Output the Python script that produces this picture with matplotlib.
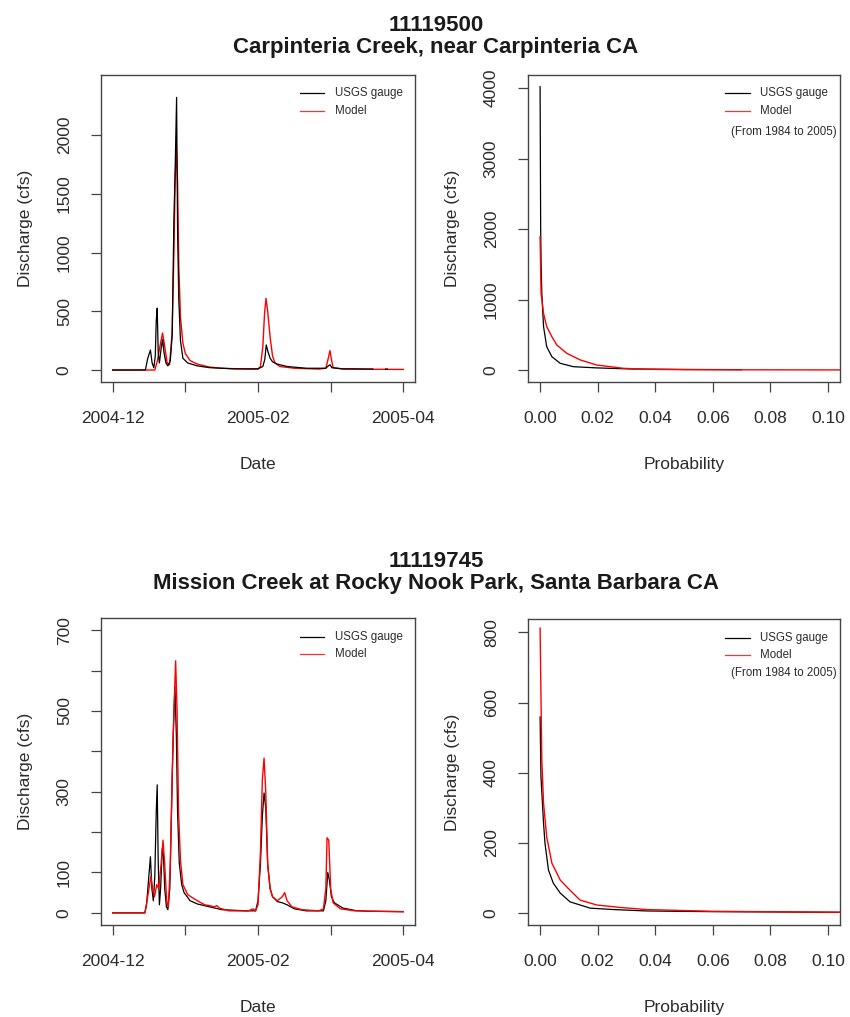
import matplotlib
matplotlib.use("Agg")
import matplotlib.pyplot as plt
import numpy as np

plt.rcParams['font.family'] = ['Liberation Sans', 'DejaVu Sans']

# ---------------- data ----------------
date_ticks = [0, 30, 60, 90, 120]
date_labels = ["2004-12", "", "2005-02", "", "2005-04"]
prob_ticks = [0.00, 0.02, 0.04, 0.06, 0.08, 0.10]
prob_labels = ["0.00", "0.02", "0.04", "0.06", "0.08", "0.10"]

station1 = "11119500"
name1 = "Carpinteria Creek, near Carpinteria CA"
station2 = "11119745"
name2 = "Mission Creek at Rocky Nook Park, Santa Barbara CA"

# Carpinteria time series (day index, cfs)
c_gauge_day = [0, 13.5, 14.5, 15.6, 16.3, 17, 17.6, 18.0, 18.4, 18.8, 19.3, 20.0, 20.6, 21.2, 22.0,
               22.8, 23.8, 24.6, 25.3, 25.8, 26.4, 26.8, 27.3, 28, 29, 31, 35, 40, 50, 60, 62,
               62.8, 63.4, 64.2, 65, 66, 68, 72, 80, 88, 89, 89.7, 90.5, 95, 100, 107.4,
               np.nan, 112.6, 113.4]
c_gauge_q = [0, 0, 100, 170, 60, 20, 120, 420, 527, 150, 60, 180, 260, 150, 60,
             35, 80, 300, 1300, 1700, 2320, 1200, 600, 250, 100, 60, 35, 20, 10, 10, 30,
             90, 213, 150, 100, 70, 50, 30, 15, 15, 35, 45, 20, 10, 10, 8,
             np.nan, 8, 8]
c_model_day = [0, 17.4, 18.5, 19.5, 20.6, 21.5, 22.5, 23.5, 24.5, 25.3, 25.8, 26.3, 26.8, 27.3,
               28, 29, 30, 32, 35, 40, 45, 55, 60, 61, 62, 62.7, 63.3, 64, 65, 66, 67, 69,
               75, 85, 88, 89, 89.7, 90.4, 91, 95, 120]
c_model_q = [0, 0, 80, 200, 315, 200, 60, 45, 300, 1000, 1600, 1915, 1600, 900,
             450, 230, 140, 80, 50, 25, 15, 8, 8, 30, 200, 480, 610, 500, 280, 120, 60, 30,
             15, 8, 15, 100, 165, 80, 20, 8, 5]

# Mission Creek time series (day index, cfs)
m_gauge_day = [0, 13.3, 14, 14.8, 15.6, 16.2, 16.8, 17.4, 18.0, 18.4, 18.8, 19.3, 19.8, 20.5, 21,
               21.5, 22.2, 22.8, 23.6, 24.3, 25.0, 25.7, 26.3, 26.8, 27.5, 28.5, 29.5, 32, 35,
               40, 45, 55, 59, 60, 61, 61.8, 62.5, 63.2, 64, 65, 66, 68, 70, 72, 75, 80, 87,
               88, 88.8, 89.5, 90.3, 91.5, 95, 100, 105, 120]
m_gauge_q = [0, 0, 20, 80, 139, 60, 30, 90, 250, 317, 130, 20, 60, 160, 140,
             60, 15, 8, 60, 250, 440, 560, 440, 250, 124, 70, 50, 30, 22,
             15, 8, 5, 5, 30, 120, 240, 297, 260, 120, 60, 40, 28, 25, 20, 10, 5, 5,
             30, 100, 80, 40, 25, 12, 6, 4, 3]
m_model_day = [0, 13.3, 14.2, 15, 15.8, 16.5, 17.3, 18.2, 19, 20, 20.8, 21.5, 22.3, 23, 23.8,
               24.6, 25.3, 26, 26.6, 27.2, 28, 29, 31, 35, 38, 40, 42, 43, 44, 48, 56, 58, 59,
               60, 61, 61.8, 62.5, 63.2, 64, 65, 66, 68, 70, 71, 72, 74, 78, 85, 87, 88,
               88.5, 89.2, 90, 91, 94, 100, 120]
m_model_q = [0, 0, 30, 60, 90, 60, 40, 70, 60, 120, 180, 120, 30, 15, 120,
             350, 500, 624, 500, 250, 130, 70, 45, 30, 20, 18, 15, 18, 12, 5, 5, 10, 5,
             20, 150, 330, 383, 300, 120, 60, 40, 30, 40, 50, 30, 15, 8, 5, 10, 60,
             186, 180, 60, 25, 10, 5, 3]

# Exceedance curves (probability, cfs)
c_gauge_p = [0, 0.0002, 0.00035, 0.0006, 0.0012, 0.0023, 0.0041, 0.007, 0.0116, 0.0197,
             0.0313, 0.05, 0.07]
c_gauge_fq = [4019, 2010, 1500, 1088, 615, 331, 189, 95, 47, 30, 15, 8, 5]
c_model_p = [0, 0.0002, 0.00035, 0.0012, 0.0023, 0.0041, 0.0058, 0.0093, 0.014, 0.0197,
             0.029, 0.037, 0.05, 0.07, 0.11]
c_model_fq = [1891, 1400, 1088, 804, 615, 473, 355, 236, 142, 71, 24, 10, 5, 3, 1]

m_gauge_p = [0, 0.0003, 0.0012, 0.0017, 0.0029, 0.0046, 0.007, 0.0104, 0.0174, 0.0255,
             0.037, 0.06, 0.11]
m_gauge_fq = [559, 388, 256, 199, 123, 85, 57, 32, 14, 10, 6, 4, 2]
m_model_p = [0, 0.00035, 0.0006, 0.0012, 0.0023, 0.0041, 0.007, 0.0104, 0.0139, 0.0197,
             0.0278, 0.037, 0.06, 0.11]
m_model_fq = [812, 588, 436, 313, 217, 142, 94, 65, 37, 23, 16, 10, 5, 2]

c_ts_yticks = [0, 500, 1000, 1500, 2000]
c_ts_ylabels = ["0", "500", "1000", "1500", "2000"]
c_fd_yticks = [0, 1000, 2000, 3000, 4000]
c_fd_ylabels = ["0", "1000", "2000", "3000", "4000"]
m_ts_yticks = [0, 100, 200, 300, 400, 500, 600, 700]
m_ts_ylabels = ["0", "100", "", "300", "", "500", "", "700"]
m_fd_yticks = [0, 200, 400, 600, 800]
m_fd_ylabels = ["0", "200", "400", "600", "800"]

# ---------------- layout ----------------
W, H = 850, 1017
fig = plt.figure(figsize=(W / 100, H / 100), dpi=100)
TXT = "#2b2b2b"
AX = "#444444"
FS = 12.5


def add_ax(x0, x1, y0, y1):
    return fig.add_axes([x0 / W, 1 - y1 / H, (x1 - x0) / W, (y1 - y0) / H])


def style(ax, xticks, xlabels, yticks, ylabels, xlabel, xlim, ylim):
    ax.set_xlim(*xlim)
    ax.set_ylim(*ylim)
    ax.set_xticks(xticks)
    ax.set_xticklabels(xlabels)
    ax.set_yticks(yticks)
    ax.set_yticklabels(ylabels, rotation=90, va="center")
    for s in ax.spines.values():
        s.set_color(AX)
        s.set_linewidth(1.0)
    ax.tick_params(direction="out", length=7, width=0.9, color=AX, labelcolor=TXT,
                   labelsize=FS)
    ax.tick_params(axis="x", pad=14)
    ax.tick_params(axis="y", pad=14)
    ax.set_xlabel(xlabel, fontsize=FS, color=TXT, labelpad=22)
    ax.set_ylabel("Discharge (cfs)", fontsize=FS, color=TXT, labelpad=17)


def legend(ax, with_period, ys):
    lx0, lx1, tx = 0.633, 0.71, 0.745
    ax.plot([lx0, lx1], [ys[0], ys[0]], transform=ax.transAxes, color="black", lw=0.9)
    ax.plot([lx0, lx1], [ys[1], ys[1]], transform=ax.transAxes, color="#ff3333", lw=0.9)
    ax.text(tx, ys[0], "USGS gauge", transform=ax.transAxes, fontsize=8.3, color=TXT,
            va="center", ha="left")
    ax.text(tx, ys[1], "Model", transform=ax.transAxes, fontsize=8.3, color=TXT,
            va="center", ha="left")
    if with_period:
        ax.text(0.99, ys[2], "(From 1984 to 2005)", transform=ax.transAxes, fontsize=8.3,
                color=TXT, va="center", ha="right")


# top-left
ax1 = add_ax(101, 415, 75, 382)
ax1.plot(c_model_day, c_model_q, color="red", lw=1.0)
ax1.plot(c_gauge_day, c_gauge_q, color="black", lw=0.9)
style(ax1, date_ticks, date_labels, c_ts_yticks, c_ts_ylabels, "Date",
      (-4.8, 124.8), (-102, 2511))
legend(ax1, False, (0.941, 0.883))

# top-right
ax2 = add_ax(528, 840, 75, 382)
ax2.plot(c_gauge_p, c_gauge_fq, color="black", lw=0.9)
ax2.plot(c_model_p, c_model_fq, color="red", lw=1.0)
style(ax2, prob_ticks, prob_labels, c_fd_yticks, c_fd_ylabels, "Probability",
      (-0.0042, 0.1042), (-170, 4185))
legend(ax2, True, (0.941, 0.883, 0.814))

# bottom-left
ax3 = add_ax(101, 415, 618, 925)
ax3.plot(m_gauge_day, m_gauge_q, color="black", lw=0.9)
ax3.plot(m_model_day, m_model_q, color="red", lw=1.0)
style(ax3, date_ticks, date_labels, m_ts_yticks, m_ts_ylabels, "Date",
      (-4.8, 124.8), (-30, 730))
legend(ax3, False, (0.938, 0.883))

# bottom-right
ax4 = add_ax(528, 840, 619, 925)
ax4.plot(m_gauge_p, m_gauge_fq, color="black", lw=0.9)
ax4.plot(m_model_p, m_model_fq, color="red", lw=1.0)
style(ax4, prob_ticks, prob_labels, m_fd_yticks, m_fd_ylabels, "Probability",
      (-0.0042, 0.1042), (-34, 838))
legend(ax4, True, (0.938, 0.883, 0.824))

# titles (baseline positions in pixels)
cx = 436 / W
for y, s in [(31, station1), (53, name1), (567, station2), (589, name2)]:
    fig.text(cx, 1 - y / H, s, ha="center", va="baseline", fontsize=16,
             fontweight="bold", color="#1a1a1a")

fig.savefig("out.png", dpi=100, facecolor="white")
